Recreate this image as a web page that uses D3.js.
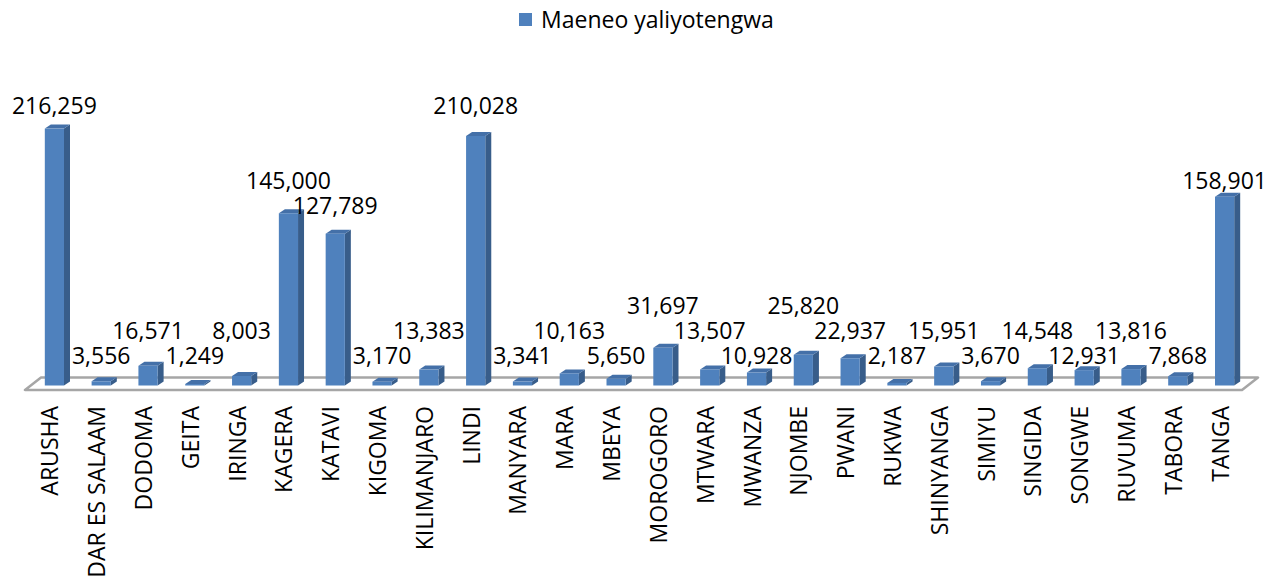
<!DOCTYPE html>
<html>
<head>
<meta charset="utf-8">
<script src="https://cdn.jsdelivr.net/npm/d3@7/dist/d3.min.js"></script>
<style>
    body { margin: 0; background: #fff; }
    text { font-family: "Open Sans", "Noto Sans", sans-serif; fill: #000; }
</style>
</head>
<body>
<script>
var seriesName = "Maeneo yaliyotengwa";

var regions = ["ARUSHA", "DAR ES SALAAM", "DODOMA", "GEITA", "IRINGA", "KAGERA",
    "KATAVI", "KIGOMA", "KILIMANJARO", "LINDI", "MANYARA", "MARA", "MBEYA",
    "MOROGORO", "MTWARA", "MWANZA", "NJOMBE", "PWANI", "RUKWA", "SHINYANGA",
    "SIMIYU", "SINGIDA", "SONGWE", "RUVUMA", "TABORA", "TANGA"];

var values = [216259, 3556, 16571, 1249, 8003, 145000,
    127789, 3170, 13383, 210028, 3341, 10163, 5650,
    31697, 13507, 10928, 25820, 22937, 2187, 15951,
    3670, 14548, 12931, 13816, 7868, 158901];

var _width = 1280, _height = 582,
    _floorY = 385.5,
    _fontSize = "23px",
    _depth = {x: 6, y: -4},          // bar depth
    _floorDepth = {x: 16, y: -12.5}, // floor depth
    _front = "#4f81bd", _side = "#385d8a", _top = "#4470a8";

var svg = d3.select("body").append("svg")
    .attr("width", _width)
    .attr("height", _height);

var x = d3.scaleBand()
    .domain(regions)
    .range([31, 1248])
    .paddingInner(0.59)
    .paddingOuter(0.295);

var y = d3.scaleLinear()
    .domain([0, 250000])
    .range([_floorY, _floorY - 297]);

// legend
var legend = svg.append("g").attr("class", "legend");
legend.append("rect")
    .attr("x", 519).attr("y", 13)
    .attr("width", 13).attr("height", 13)
    .attr("fill", _front);
legend.append("text")
    .attr("x", 541).attr("y", 28)
    .style("font-size", _fontSize)
    .text(seriesName);

// floor
var fl = x.range()[0] - 6, fr = x.range()[1] - 6, fy = _floorY + 4.5;
svg.append("path")
    .attr("d", "M" + fl + "," + fy + "L" + fr + "," + fy
        + "L" + (fr + _floorDepth.x) + "," + (fy + _floorDepth.y)
        + "L" + (fl + _floorDepth.x) + "," + (fy + _floorDepth.y) + "Z")
    .attr("fill", "#fff")
    .attr("stroke", "#a6a6a6")
    .attr("stroke-width", 2.5)
    .attr("stroke-linejoin", "round");

var data = regions.map(function (r, i) {
    return {name: r, value: values[i], i: i};
});

// bars
var bars = svg.selectAll("g.bar")
    .data(data)
    .enter().append("g")
    .attr("class", "bar");

bars.append("path") // side
    .attr("fill", _side)
    .attr("d", function (d) {
        var x1 = x(d.name) + x.bandwidth(), t = y(d.value);
        return "M" + x1 + "," + _floorY + "L" + x1 + "," + t
            + "L" + (x1 + _depth.x) + "," + (t + _depth.y)
            + "L" + (x1 + _depth.x) + "," + (_floorY + _depth.y) + "Z";
    });

bars.append("path") // top
    .attr("fill", _top)
    .attr("d", function (d) {
        var x0 = x(d.name), x1 = x0 + x.bandwidth(), t = y(d.value);
        return "M" + x0 + "," + t + "L" + x1 + "," + t
            + "L" + (x1 + _depth.x) + "," + (t + _depth.y)
            + "L" + (x0 + _depth.x) + "," + (t + _depth.y) + "Z";
    });

bars.append("rect") // front
    .attr("fill", _front)
    .attr("x", function (d) { return x(d.name); })
    .attr("y", function (d) { return y(d.value); })
    .attr("width", x.bandwidth())
    .attr("height", function (d) { return _floorY - y(d.value); });

// data labels sit in lanes above the floor, bumping the larger one up on overlap
var lane0 = _floorY - 30, laneStep = 25;
data.forEach(function (d) {
    d.lane = Math.max(0, Math.ceil((lane0 - (y(d.value) - 14)) / laneStep));
});
var changed = true, guard = 0;
while (changed && guard++ < 100) {
    changed = false;
    for (var i = 1; i < data.length; i++) {
        var a = data[i - 1], b = data[i];
        if (a.lane === b.lane) {
            if (a.value > b.value) a.lane++; else b.lane++;
            changed = true;
        }
    }
}

svg.selectAll("text.value")
    .data(data)
    .enter().append("text")
    .attr("class", "value")
    .attr("x", function (d) { return x(d.name) + x.bandwidth() / 2; })
    .attr("y", function (d) { return lane0 - d.lane * laneStep; })
    .attr("dy", "0.36em")
    .attr("text-anchor", "middle")
    .style("font-size", _fontSize)
    .text(function (d) { return d3.format(",")(d.value); });

// category labels
svg.selectAll("text.cat")
    .data(regions)
    .enter().append("text")
    .attr("class", "cat")
    .attr("transform", function (d) {
        return "translate(" + (x(d) + x.bandwidth() / 2 + 4) + ",406) rotate(-90)";
    })
    .attr("text-anchor", "end")
    .style("font-size", _fontSize)
    .text(function (d) { return d; });
</script>
</body>
</html>
